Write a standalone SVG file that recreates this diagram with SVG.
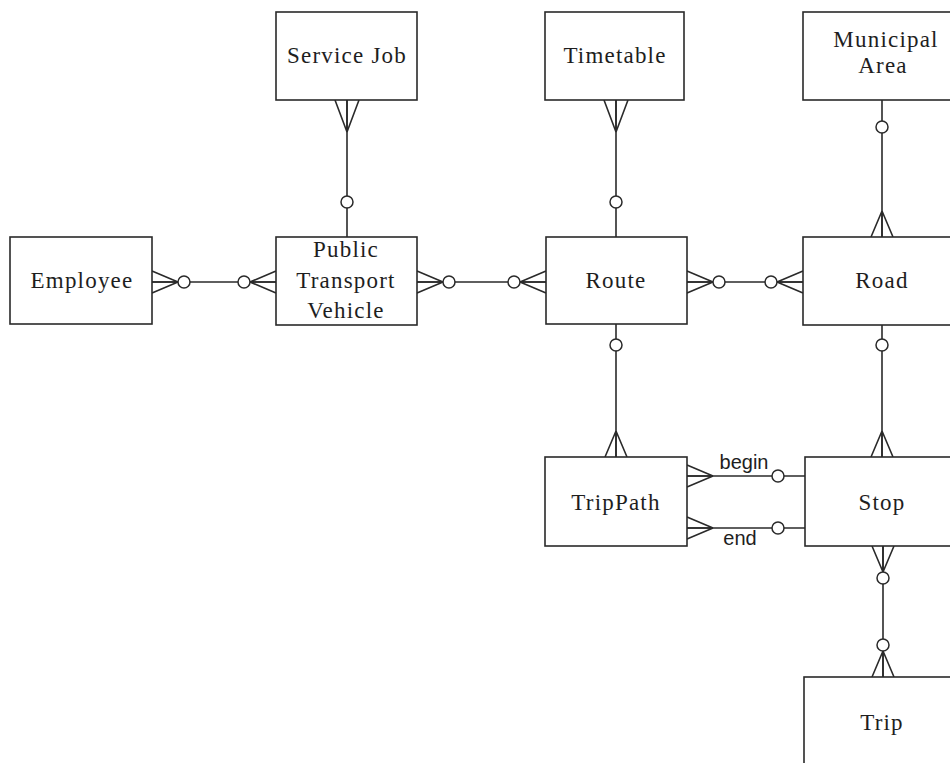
<svg xmlns="http://www.w3.org/2000/svg" xmlns:xlink="http://www.w3.org/1999/xlink" width="950" height="763" viewBox="0 0 950 763">
<style>
  .box { fill: #ffffff; stroke: #2a2a2a; stroke-width: 1.6; }
  .lbl { font-family: "Liberation Serif", "Times New Roman", serif; font-size: 23px; letter-spacing: 1.2px; fill: #1e1e1e; text-anchor: middle; }
  .rel { font-family: "Liberation Sans", Arial, sans-serif; font-size: 20px; fill: #1e1e1e; text-anchor: middle; }
  .ln { fill: none; stroke: #2a2a2a; stroke-width: 1.6; }
  .opt { fill: #ffffff; stroke: #2a2a2a; stroke-width: 1.5; }
</style>
<defs>
  <path id="crow" class="ln" d="M0,0 L26,-11 M0,0 L26,0 M0,0 L26,11"/>
  <path id="crowL" class="ln" d="M0,0 L32,-12 M0,0 L32,0 M0,0 L32,12"/>
</defs>
<rect width="950" height="763" fill="#ffffff"/>

<g id="connectors">
  <!-- Employee - Public Transport Vehicle -->
  <path class="ln" d="M152,282 H276"/>
  <use xlink:href="#crow" href="#crow" transform="translate(178,282) rotate(180)"/>
  <circle class="opt" cx="184" cy="282" r="6"/>
  <use xlink:href="#crow" href="#crow" transform="translate(250,282)"/>
  <circle class="opt" cx="244" cy="282" r="6"/>
  <!-- PTV - Route -->
  <path class="ln" d="M417,282 H546"/>
  <use xlink:href="#crow" href="#crow" transform="translate(443,282) rotate(180)"/>
  <circle class="opt" cx="449" cy="282" r="6"/>
  <use xlink:href="#crow" href="#crow" transform="translate(520,282)"/>
  <circle class="opt" cx="514" cy="282" r="6"/>
  <!-- Route - Road -->
  <path class="ln" d="M687,282 H803"/>
  <use xlink:href="#crow" href="#crow" transform="translate(713,282) rotate(180)"/>
  <circle class="opt" cx="719" cy="282" r="6"/>
  <use xlink:href="#crow" href="#crow" transform="translate(777,282)"/>
  <circle class="opt" cx="771" cy="282" r="6"/>
  <!-- Service Job - PTV -->
  <path class="ln" d="M347,100 V237"/>
  <use xlink:href="#crowL" href="#crowL" transform="translate(347,132) rotate(-90)"/>
  <circle class="opt" cx="347" cy="202" r="6"/>
  <!-- Timetable - Route -->
  <path class="ln" d="M616,100 V237"/>
  <use xlink:href="#crowL" href="#crowL" transform="translate(616,132) rotate(-90)"/>
  <circle class="opt" cx="616" cy="202" r="6"/>
  <!-- Municipal Area - Road -->
  <path class="ln" d="M882,100 V237"/>
  <circle class="opt" cx="882" cy="127" r="6"/>
  <use xlink:href="#crow" href="#crow" transform="translate(882,211) rotate(90)"/>
  <!-- Route - TripPath -->
  <path class="ln" d="M616,324 V457"/>
  <circle class="opt" cx="616" cy="345" r="6"/>
  <use xlink:href="#crow" href="#crow" transform="translate(616,431) rotate(90)"/>
  <!-- Road - Stop -->
  <path class="ln" d="M882,325 V457"/>
  <circle class="opt" cx="882" cy="345" r="6"/>
  <use xlink:href="#crow" href="#crow" transform="translate(882,431) rotate(90)"/>
  <!-- TripPath - Stop (begin) -->
  <path class="ln" d="M687,476 H805"/>
  <use xlink:href="#crow" href="#crow" transform="translate(713,476) rotate(180)"/>
  <circle class="opt" cx="778" cy="476" r="6"/>
  <text class="rel" x="744" y="469">begin</text>
  <!-- TripPath - Stop (end) -->
  <path class="ln" d="M687,528 H805"/>
  <use xlink:href="#crow" href="#crow" transform="translate(713,528) rotate(180)"/>
  <circle class="opt" cx="778" cy="528" r="6"/>
  <text class="rel" x="740" y="545">end</text>
  <!-- Stop - Trip -->
  <path class="ln" d="M883,546 V677"/>
  <use xlink:href="#crow" href="#crow" transform="translate(883,572) rotate(-90)"/>
  <circle class="opt" cx="883" cy="578" r="6"/>
  <use xlink:href="#crow" href="#crow" transform="translate(883,651) rotate(90)"/>
  <circle class="opt" cx="883" cy="645" r="6"/>
</g>

<g id="node-service-job">
  <rect class="box" x="276" y="12" width="141" height="88"/>
  <text class="lbl" x="347" y="63">Service Job</text>
</g>
<g id="node-timetable">
  <rect class="box" x="545" y="12" width="139" height="88"/>
  <text class="lbl" x="615" y="63">Timetable</text>
</g>
<g id="node-municipal-area">
  <rect class="box" x="803" y="12" width="160" height="88"/>
  <text class="lbl" x="886" y="47">Municipal</text>
  <text class="lbl" x="883" y="73">Area</text>
</g>
<g id="node-employee">
  <rect class="box" x="10" y="237" width="142" height="87"/>
  <text class="lbl" x="82" y="288">Employee</text>
</g>
<g id="node-public-transport-vehicle">
  <rect class="box" x="276" y="237" width="141" height="88"/>
  <text class="lbl" x="346" y="257">Public</text>
  <text class="lbl" x="346" y="288">Transport</text>
  <text class="lbl" x="346" y="318">Vehicle</text>
</g>
<g id="node-route">
  <rect class="box" x="546" y="237" width="141" height="87"/>
  <text class="lbl" x="616" y="288">Route</text>
</g>
<g id="node-road">
  <rect class="box" x="803" y="237" width="160" height="88"/>
  <text class="lbl" x="882" y="288">Road</text>
</g>
<g id="node-trippath">
  <rect class="box" x="545" y="457" width="142" height="89"/>
  <text class="lbl" x="616" y="510">TripPath</text>
</g>
<g id="node-stop">
  <rect class="box" x="805" y="457" width="160" height="89"/>
  <text class="lbl" x="882" y="510">Stop</text>
</g>
<g id="node-trip">
  <rect class="box" x="804" y="677" width="160" height="100"/>
  <text class="lbl" x="882" y="730">Trip</text>
</g>
</svg>
